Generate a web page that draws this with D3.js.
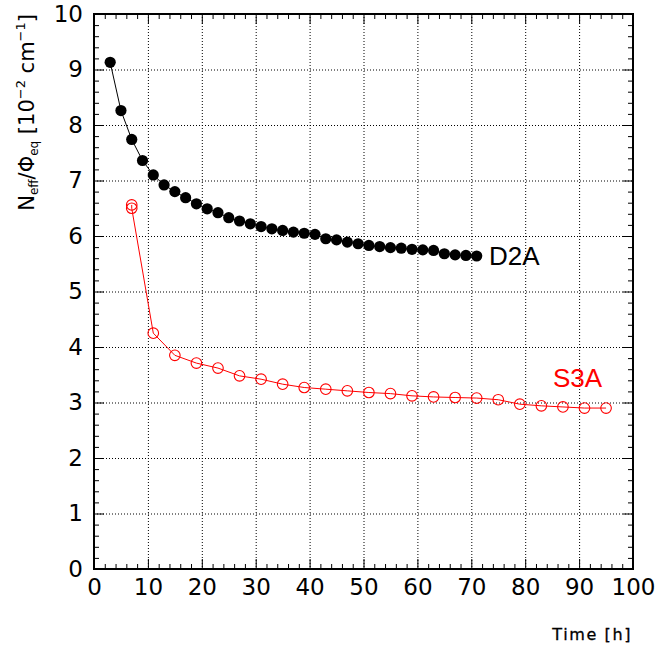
<!DOCTYPE html>
<html>
<head>
<meta charset="utf-8">
<script src="https://cdn.jsdelivr.net/npm/d3@7"></script>
<style>
  html, body { margin: 0; padding: 0; background: #fff; }
  svg { display: block; }
</style>
</head>
<body>
<script>
// ---- data ----
const d2aTime = [3,5,7,9,11,13,15,17,19,21,23,25,27,29,31,33,35,37,39,41,43,45,47,49,51,53,55,57,59,61,63,65,67,69,71];
const d2aNeff = [9.13,8.26,7.74,7.36,7.10,6.92,6.80,6.69,6.58,6.49,6.42,6.33,6.27,6.22,6.17,6.13,6.10,6.07,6.05,6.03,5.95,5.93,5.89,5.86,5.83,5.81,5.79,5.78,5.76,5.75,5.74,5.68,5.66,5.65,5.64];
const s3aTime = [7,7,11,15,19,23,27,31,35,39,43,47,51,55,59,63,67,71,75,79,83,87,91,95];
const s3aNeff = [6.56,6.50,4.25,3.85,3.71,3.62,3.48,3.42,3.33,3.27,3.24,3.21,3.18,3.16,3.12,3.10,3.09,3.08,3.05,2.97,2.94,2.92,2.90,2.90];
const xMajorTicks = [0,10,20,30,40,50,60,70,80,90,100];
const yMajorTicks = [0,1,2,3,4,5,6,7,8,9,10];
const seriesNames = ["D2A","S3A"];
const xTitle = "Time [h]";

// ---- layout ----
const W = 657, H = 649;
const L = 94, R = 633, T = 14, B = 569;
const MAJ = 10, MIN = 5;

const svg = d3.select("body").append("svg").attr("width", W).attr("height", H);
const x = d3.scaleLinear().domain([0,100]).range([L,R]);
const y = d3.scaleLinear().domain([0,10]).range([B,T]);

const xMinor = d3.range(0,101,2).filter(v => v % 10 !== 0);
const yMinor = d3.range(0,10.01,0.2).map(v => +v.toFixed(1)).filter(v => Math.abs(v - Math.round(v)) > 1e-6);

// grid
const grid = svg.append("g");
grid.selectAll("line.gx").data(xMajorTicks.filter(v => v>0 && v<100)).join("line")
  .attr("x1", d => x(d)+0.5).attr("x2", d => x(d)+0.5).attr("y1", T).attr("y2", B)
  .attr("stroke", "#000").attr("stroke-width", 1).attr("stroke-dasharray", "1,2");
grid.selectAll("line.gy").data(yMajorTicks.filter(v => v>0 && v<10)).join("line")
  .attr("y1", d => y(d)+0.5).attr("y2", d => y(d)+0.5).attr("x1", L).attr("x2", R)
  .attr("stroke", "#000").attr("stroke-width", 1).attr("stroke-dasharray", "1,2");

function styleAxis(g) {
  g.select(".domain").remove();
  g.selectAll(".tick line").attr("stroke", "#000").attr("stroke-width", 1);
}
const tickFont = "'DejaVu Sans', sans-serif";

// bottom axis (major with labels)
svg.append("g").attr("transform", `translate(0,${B})`)
  .call(d3.axisBottom(x).tickValues(xMajorTicks).tickSize(-MAJ).tickPadding(10).tickFormat(d3.format("d")))
  .call(styleAxis)
  .call(g => g.selectAll("text").attr("font-family", tickFont).attr("font-size", 23).attr("fill", "#000"));
svg.append("g").attr("transform", `translate(0,${B})`)
  .call(d3.axisBottom(x).tickValues(xMinor).tickSize(-MIN).tickFormat(""))
  .call(styleAxis);
// top axis
svg.append("g").attr("transform", `translate(0,${T})`)
  .call(d3.axisTop(x).tickValues(xMajorTicks).tickSize(-MAJ).tickFormat(""))
  .call(styleAxis);
svg.append("g").attr("transform", `translate(0,${T})`)
  .call(d3.axisTop(x).tickValues(xMinor).tickSize(-MIN).tickFormat(""))
  .call(styleAxis);
// left axis
svg.append("g").attr("transform", `translate(${L},0)`)
  .call(d3.axisLeft(y).tickValues(yMajorTicks).tickSize(-MAJ).tickPadding(11).tickFormat(d3.format("d")))
  .call(styleAxis)
  .call(g => g.selectAll("text").attr("font-family", tickFont).attr("font-size", 23).attr("fill", "#000"));
svg.append("g").attr("transform", `translate(${L},0)`)
  .call(d3.axisLeft(y).tickValues(yMinor).tickSize(-MIN).tickFormat(""))
  .call(styleAxis);
// right axis
svg.append("g").attr("transform", `translate(${R},0)`)
  .call(d3.axisRight(y).tickValues(yMajorTicks).tickSize(-MAJ).tickFormat(""))
  .call(styleAxis);
svg.append("g").attr("transform", `translate(${R},0)`)
  .call(d3.axisRight(y).tickValues(yMinor).tickSize(-MIN).tickFormat(""))
  .call(styleAxis);

// frame
svg.append("rect").attr("x", L).attr("y", T).attr("width", R-L).attr("height", B-T)
  .attr("fill", "none").attr("stroke", "#000").attr("stroke-width", 2);

// series
const d2a = d2aTime.map((t,i) => [t, d2aNeff[i]]);
const s3a = s3aTime.map((t,i) => [t, s3aNeff[i]]);
const line = d3.line().x(d => x(d[0])).y(d => y(d[1]));

svg.append("path").datum(d2a).attr("d", line).attr("fill", "none").attr("stroke", "#000").attr("stroke-width", 1);
svg.append("g").selectAll("circle").data(d2a).join("circle")
  .attr("cx", d => x(d[0])).attr("cy", d => y(d[1])).attr("r", 5.6).attr("fill", "#000");

svg.append("path").datum(s3a).attr("d", line).attr("fill", "none").attr("stroke", "#ff0000").attr("stroke-width", 1);
svg.append("g").selectAll("circle").data(s3a).join("circle")
  .attr("cx", d => x(d[0])).attr("cy", d => y(d[1])).attr("r", 5.3)
  .attr("fill", "none").attr("stroke", "#ff0000").attr("stroke-width", 1.1);

// series labels
svg.append("text").attr("x", 489).attr("y", 265).text(seriesNames[0])
  .attr("font-family", "'Liberation Sans', Arial, sans-serif").attr("font-size", 26).attr("fill", "#000");
svg.append("text").attr("x", 553).attr("y", 387).text(seriesNames[1])
  .attr("font-family", "'Liberation Sans', Arial, sans-serif").attr("font-size", 26).attr("fill", "#ff0000");

// x title
svg.append("text").attr("x", 632).attr("y", 640).attr("text-anchor", "end")
  .attr("font-family", "'DejaVu Sans', sans-serif").attr("font-size", 16)
  .attr("letter-spacing", 1.6).attr("stroke", "#000").attr("stroke-width", 0.3)
  .attr("fill", "#000").text(xTitle);

// y title (rotated)
const yt = svg.append("text").attr("transform", "translate(34,14) rotate(-90)")
  .attr("text-anchor", "end").attr("font-family", "'DejaVu Sans', sans-serif").attr("font-size", 21).attr("fill", "#000");
yt.append("tspan").text("N");
yt.append("tspan").attr("font-size", 12).attr("dy", 4).text("eff");
yt.append("tspan").attr("dy", -4).text("/\u03A6");
yt.append("tspan").attr("font-size", 12).attr("dy", 4).text("eq");
yt.append("tspan").attr("dy", -4).text(" [10");
yt.append("tspan").attr("font-size", 13).attr("dy", -9).text("\u22122");
yt.append("tspan").attr("dy", 9).text(" cm");
yt.append("tspan").attr("font-size", 13).attr("dy", -9).text("\u22121");
yt.append("tspan").attr("dy", 9).text("]");
</script>
</body>
</html>
